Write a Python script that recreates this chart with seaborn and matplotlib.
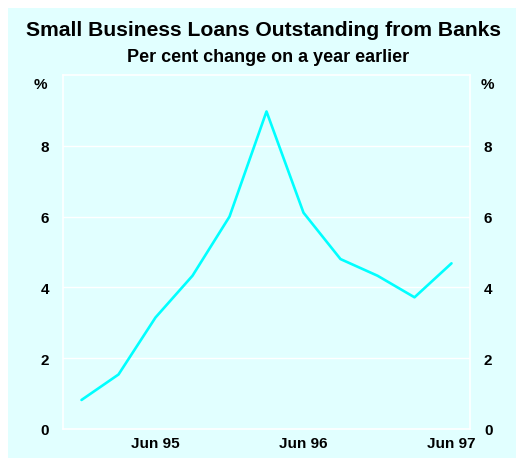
import matplotlib
matplotlib.use("Agg")
import matplotlib.pyplot as plt
import seaborn as sns
import pandas as pd
from matplotlib.patches import Rectangle

quarters = ["Dec 94", "Mar 95", "Jun 95", "Sep 95", "Dec 95", "Mar 96",
            "Jun 96", "Sep 96", "Dec 96", "Mar 97", "Jun 97"]
growth = [0.82, 1.54, 3.15, 4.33, 6.0, 8.97, 6.11, 4.8, 4.33, 3.72, 4.68]
tick_labels = ["Jun 95", "Jun 96", "Jun 97"]
y_ticks = [0, 2, 4, 6, 8]

bg = "#E1FFFF"
sns.set_theme(style="white")
plt.rcParams['font.family'] = ['Liberation Sans', 'DejaVu Sans']
plt.rcParams['font.weight'] = 'bold'
plt.rcParams['text.color'] = 'black'
plt.rcParams['xtick.labelcolor'] = 'black'
plt.rcParams['ytick.labelcolor'] = 'black'

df = pd.DataFrame({"pos": range(len(quarters)), "quarter": quarters, "growth": growth})

fig = plt.figure(figsize=(5.16, 4.6), dpi=100, facecolor="white")
fig.patches.append(Rectangle((8/516, 1/460), 1 - 8/516, 1 - 10/460, transform=fig.transFigure,
                             facecolor=bg, edgecolor="none", zorder=-10))
ax = fig.add_axes([63/516, 30/460, 407/516, 354/460])
ax.set_facecolor(bg)

sns.lineplot(data=df, x="pos", y="growth", ax=ax, color="#00FFFF", linewidth=1.9)

ax.set_xlim(-0.5, len(quarters) - 0.5)
ax.set_ylim(0, 10)
ax.set_yticks(y_ticks)
ax.set_yticklabels([str(v) for v in y_ticks], fontsize=11, fontweight='bold', color='black')
ax.tick_params(axis='y', length=0, labelleft=True, labelright=True, pad=10, labelcolor='black')
for lbl in ax.get_yticklabels():
    lbl.set_fontweight('bold')

label_pos = [quarters.index(q) for q in tick_labels]
ax.set_xticks(label_pos)
ax.set_xticklabels(tick_labels, fontsize=11, fontweight='bold', color='black')
ax.set_xticks([i + 0.5 for i in range(len(quarters) - 1)], minor=True)
ax.tick_params(axis='x', which='major', length=0, pad=5, labelcolor='black')
ax.tick_params(axis='x', which='minor', direction='in', length=7, width=1, color='white')

ax.grid(axis='y', color='white', linewidth=1)
ax.grid(axis='x', visible=False)
for s in ax.spines.values():
    s.set_color('white')
    s.set_linewidth(1.2)
ax.set_xlabel("")
ax.set_ylabel("")

ax.text(-0.04, 0.975, "%", transform=ax.transAxes, ha='right', va='center',
        fontsize=11, fontweight='bold', color='black')
ax.text(1.025, 0.975, "%", transform=ax.transAxes, ha='left', va='center',
        fontsize=11, fontweight='bold', color='black')

fig.text(264/516, 1 - 30/460, "Small Business Loans Outstanding from Banks",
         ha='center', va='center', fontsize=15.2, fontweight='bold', color='black')
fig.text(268/516, 1 - 57/460, "Per cent change on a year earlier",
         ha='center', va='center', fontsize=13, fontweight='bold', color='black')

fig.savefig("out.png", dpi=100, facecolor="white")
